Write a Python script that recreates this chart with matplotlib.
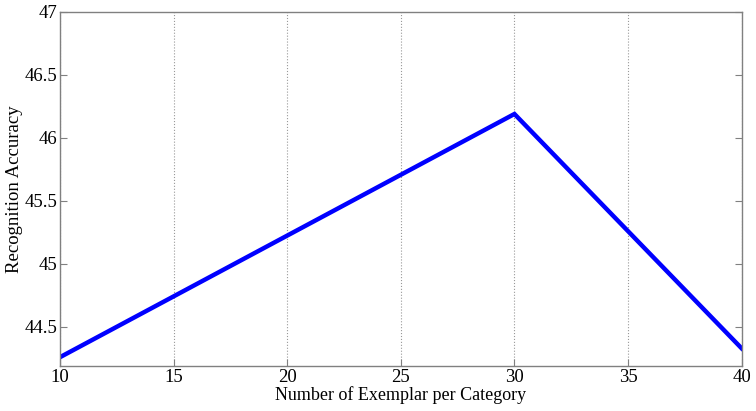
import matplotlib
matplotlib.use("Agg")
import matplotlib.pyplot as plt

# exemplars per category vs. recognition accuracy
exemplars = [10, 30, 40]
accuracy = [44.26, 46.19, 44.33]
x_ticks = [10, 15, 20, 25, 30, 35, 40]
y_ticks = [44.5, 45, 45.5, 46, 46.5, 47]
y_labels = ["44.5", "45", "45.5", "46", "46.5", "47"]

plt.rcParams["font.family"] = ["Liberation Serif", "DejaVu Serif"]

fig = plt.figure(figsize=(7.56, 4.11), dpi=100)
ax = fig.add_axes([0.0794, 0.1095, 0.9016, 0.8615])

ax.plot(exemplars, accuracy, color="#0000ff", linewidth=3.2, solid_joinstyle="miter")

ax.set_xlim(10, 40)
ax.set_ylim(44.19, 47)
ax.set_xticks(x_ticks)
ax.set_yticks(y_ticks)
ax.set_yticklabels(y_labels)
ax.grid(axis="x", linestyle=":", color="#999999", linewidth=0.8)

for s in ax.spines.values():
    s.set_color("#808080")
    s.set_linewidth(1.0)
ax.tick_params(direction="in", length=5, color="#808080", labelsize=13.5,
               right=True, top=False, pad=2)

ax.set_xlabel("Number of Exemplar per Category", fontsize=13, labelpad=0)
ax.set_ylabel("Recognition Accuracy", fontsize=13.5, labelpad=0)
ax.yaxis.set_label_coords(-0.054, 0.5)

fig.savefig("out.png", dpi=100)
